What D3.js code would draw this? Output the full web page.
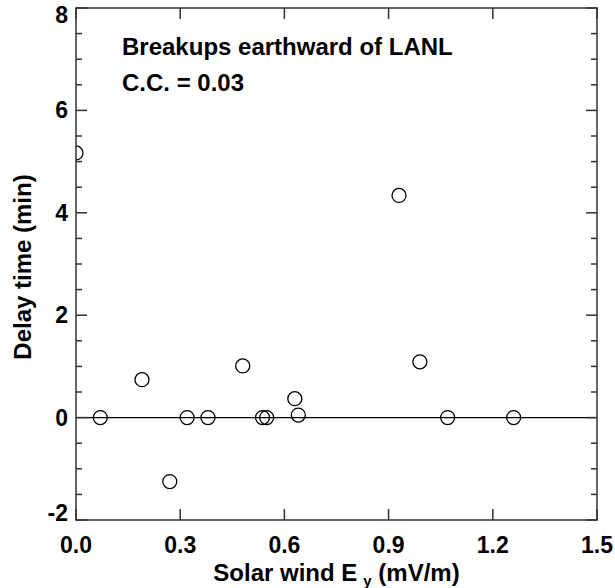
<!DOCTYPE html>
<html>
<head>
<meta charset="utf-8">
<script src="https://cdn.jsdelivr.net/npm/d3@7"></script>
<style>
  body { margin: 0; background: #fff; }
  svg text { font-family: "Liberation Sans", Arial, Helvetica, sans-serif; font-weight: bold; fill: #000; }
</style>
</head>
<body>
<div class="chart"></div>
<script>
// solar wind Ey (mV/m) vs delay time (min)
const eyValues = [0.0, 0.07, 0.19, 0.27, 0.32, 0.38, 0.48, 0.537, 0.549, 0.63, 0.64, 0.93, 0.99, 1.07, 1.26];
const delayValues = [5.17, 0.0, 0.74, -1.25, 0.0, 0.0, 1.01, 0.0, 0.0, 0.37, 0.05, 4.34, 1.09, 0.0, 0.0];
const xTicks = [0.0, 0.3, 0.6, 0.9, 1.2, 1.5];
const xTickLabels = ["0.0", "0.3", "0.6", "0.9", "1.2", "1.5"];
const yTicks = [-2, 0, 2, 4, 6, 8];
const yTickLabels = ["-2", "0", "2", "4", "6", "8"];
const yMinor = [-1.5, -1, -0.5, 0.5, 1, 1.5, 2.5, 3, 3.5, 4.5, 5, 5.5, 6.5, 7, 7.5];
const notes = ["Breakups earthward of LANL", "C.C. = 0.03"];

const W = 615, H = 588;
const pLeft = 76, pRight = 597, pTop = 8, pBottom = 520;

const x = d3.scaleLinear().domain([0, 1.5]).range([pLeft, pRight]);
const y = d3.scaleLinear().domain([-2, 8]).range([pBottom, pTop]);

const svg = d3.select('.chart').append('svg')
  .attr('width', W)
  .attr('height', H);

svg.append('clipPath').attr('id', 'plotclip')
  .append('rect')
    .attr('x', pLeft).attr('y', pTop)
    .attr('width', pRight - pLeft).attr('height', pBottom - pTop);

// zero line
svg.append('line')
  .attr('x1', pLeft).attr('x2', pRight)
  .attr('y1', y(0)).attr('y2', y(0))
  .attr('stroke', '#000').attr('stroke-width', 1.2);

// points
const pts = eyValues.map((v, i) => ({ ex: v, dt: delayValues[i] }));
svg.append('g').attr('clip-path', 'url(#plotclip)')
  .selectAll('circle')
  .data(pts).enter()
  .append('circle')
    .attr('cx', d => x(d.ex))
    .attr('cy', d => y(d.dt))
    .attr('r', 7)
    .attr('fill', 'none')
    .attr('stroke', '#000')
    .attr('stroke-width', 1.3);

// ticks, all pointing inward
const axisColor = '#333';

function tickLines(data, x1, x2, y1, y2) {
  svg.append('g').selectAll('line')
    .data(data).enter()
    .append('line')
      .attr('x1', x1).attr('x2', x2)
      .attr('y1', y1).attr('y2', y2)
      .attr('stroke', axisColor)
      .attr('stroke-width', 1.5);
}

tickLines(xTicks, d => x(d), d => x(d), pBottom, pBottom - 11);
tickLines(xTicks, d => x(d), d => x(d), pTop, pTop + 11);
tickLines(yTicks, pLeft, pLeft + 11, d => y(d), d => y(d));
tickLines(yMinor, pLeft, pLeft + 6, d => y(d), d => y(d));
tickLines(yTicks, pRight, pRight - 11, d => y(d), d => y(d));
tickLines(yMinor, pRight, pRight - 6, d => y(d), d => y(d));

// frame
svg.append('rect')
  .attr('x', pLeft).attr('y', pTop)
  .attr('width', pRight - pLeft).attr('height', pBottom - pTop)
  .attr('fill', 'none')
  .attr('stroke', axisColor)
  .attr('stroke-width', 1.5);

// tick labels
svg.append('g').selectAll('text')
  .data(xTicks).enter()
  .append('text')
    .attr('x', d => x(d))
    .attr('y', 553)
    .attr('text-anchor', 'middle')
    .attr('font-size', 23)
    .text((d, i) => xTickLabels[i]);

svg.append('g').selectAll('text')
  .data(yTicks).enter()
  .append('text')
    .attr('x', 68)
    .attr('y', (d, i) => {
      // end labels are pulled inside the frame
      let yy = y(d) + 8;
      if (i === 0) yy = pBottom + 1;
      if (i === yTicks.length - 1) yy = pTop + 15;
      return yy;
    })
    .attr('text-anchor', 'end')
    .attr('font-size', 23)
    .text((d, i) => yTickLabels[i]);

// annotations
svg.selectAll('.note')
  .data(notes).enter()
  .append('text')
    .attr('class', 'note')
    .attr('x', 122)
    .attr('y', (d, i) => 55 + i * 36)
    .attr('font-size', 24)
    .text(d => d);

// axis titles
const xt = svg.append('text')
  .attr('x', (pLeft + pRight) / 2)
  .attr('y', 581)
  .attr('text-anchor', 'middle')
  .attr('font-size', 24);
xt.append('tspan').text('Solar wind E');
xt.append('tspan').attr('dx', 6).attr('dy', 5).attr('font-size', 15).text('y');
xt.append('tspan').attr('dy', -5).text(' (mV/m)');

svg.append('text')
  .attr('transform', `translate(31,${(pTop + pBottom) / 2 + 3}) rotate(-90)`)
  .attr('text-anchor', 'middle')
  .attr('font-size', 24)
  .text('Delay time (min)');
</script>
</body>
</html>
